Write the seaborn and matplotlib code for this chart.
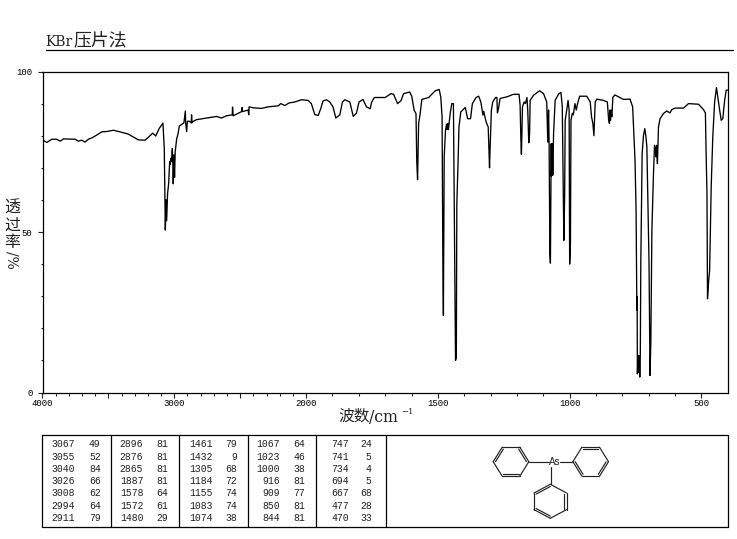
import numpy as np
import pandas as pd
import matplotlib
matplotlib.use("Agg")
import matplotlib.pyplot as plt
import seaborn as sns
from matplotlib.ticker import FixedLocator, FixedFormatter

# spectrum
wavenumber = [
    4000, 3967, 3929, 3891, 3866, 3841, 3753, 3727, 3702, 3677, 3652, 3626, 3588, 3551, 3513, 3462,
    3412, 3349, 3311, 3273, 3222, 3197, 3164, 3141, 3114, 3086, 3081, 3076, 3068, 3063, 3058, 3051,
    3043, 3035, 3030, 3025, 3020, 3015, 3010, 3008, 3003, 2998, 2993, 2982, 2972, 2962, 2944, 2927,
    2916, 2914, 2906, 2901, 2886, 2871, 2869, 2866, 2856, 2831, 2755, 2679, 2642, 2604, 2560, 2558,
    2553, 2490, 2485, 2482, 2440, 2435, 2432, 2402, 2338, 2288, 2212, 2192, 2162, 2129, 2086, 2036,
    1992, 1980, 1967, 1954, 1944, 1936, 1923, 1910, 1898, 1887, 1872, 1862, 1853, 1834, 1821, 1809,
    1799, 1784, 1771, 1757, 1751, 1741, 1700, 1678, 1668, 1653, 1640, 1630, 1607, 1599, 1590, 1583,
    1580, 1577, 1573, 1567, 1561, 1535, 1510, 1495, 1489, 1484, 1482, 1481, 1479, 1476, 1471, 1467,
    1465, 1462, 1460, 1453, 1447, 1441, 1437, 1433, 1430, 1428, 1423, 1420, 1413, 1396, 1387, 1376,
    1369, 1355, 1345, 1337, 1329, 1326, 1317, 1309, 1304, 1302, 1297, 1292, 1281, 1276, 1274, 1270,
    1264, 1238, 1213, 1192, 1188, 1185, 1183, 1179, 1173, 1168, 1162, 1159, 1155, 1152, 1150, 1137,
    1114, 1099, 1087, 1083, 1080, 1078, 1075, 1073, 1070, 1069, 1066, 1064, 1061, 1055, 1042, 1033,
    1028, 1024, 1022, 1019, 1017, 1011, 1006, 1002, 1000, 997, 995, 990, 986, 980, 975, 970,
    962, 935, 922, 917, 912, 908, 903, 897, 872, 857, 852, 849, 847, 845, 843, 840,
    836, 828, 796, 771, 761, 752, 748, 745, 744, 743, 741, 738, 736, 734, 732, 730,
    725, 720, 715, 711, 707, 703, 699, 697, 695, 692, 688, 682, 678, 673, 672, 670,
    667, 663, 657, 644, 632, 619, 613, 600, 568, 549, 511, 492, 485, 482, 479, 477,
    473, 469, 463, 457, 450, 443, 438, 431, 425, 419, 412, 406, 400,
]
transmittance = [
    78.7, 77.9, 78.9, 78.9, 78.3, 79.0, 78.9, 78.3, 78.6, 78.0, 78.9, 79.3, 80.2, 81.2, 81.3, 81.7,
    81.2, 80.5, 79.6, 78.7, 78.6, 79.5, 80.8, 79.9, 82.3, 83.9, 80.0, 76.0, 50.6, 60.0, 53.5, 62.0,
    65.0, 72.0, 71.0, 73.0, 72.0, 76.0, 70.0, 65.0, 74.0, 67.0, 75.0, 79.0, 80.5, 83.0, 83.5, 84.0,
    87.7, 84.0, 81.3, 84.5, 84.5, 84.0, 86.5, 84.0, 84.5, 85.0, 85.5, 86.0, 85.5, 86.2, 86.5, 88.9,
    86.2, 87.5, 88.8, 87.5, 88.0, 86.5, 89.0, 88.7, 88.5, 89.0, 89.3, 90.0, 89.4, 90.2, 90.5, 91.2,
    91.0, 90.0, 86.6, 86.3, 88.5, 90.8, 91.2, 90.5, 89.0, 85.5, 86.5, 90.5, 91.2, 90.5, 86.0, 87.0,
    90.5, 91.3, 89.0, 88.4, 90.5, 91.9, 91.9, 93.1, 92.9, 90.0, 90.9, 93.1, 93.6, 92.3, 87.9, 86.9,
    71.8, 66.3, 83.8, 86.9, 91.3, 91.9, 94.0, 94.4, 92.1, 85.9, 53.6, 39.6, 24.0, 73.4, 81.7, 83.6,
    81.9, 83.8, 81.9, 87.1, 90.0, 90.0, 51.6, 10.0, 11.0, 58.8, 72.9, 82.7, 87.4, 88.8, 85.3, 85.3,
    90.0, 91.9, 92.3, 90.5, 86.4, 87.6, 84.3, 82.7, 70.0, 75.5, 87.9, 90.5, 91.9, 91.9, 87.1, 88.5,
    91.6, 92.1, 92.9, 92.9, 89.5, 78.6, 74.2, 89.0, 90.5, 90.0, 91.9, 87.9, 77.8, 80.7, 91.0, 92.6,
    94.0, 93.1, 90.5, 78.0, 88.0, 78.0, 43.2, 40.3, 77.5, 67.4, 77.5, 67.7, 80.7, 91.0, 93.0, 93.5,
    89.0, 62.0, 47.4, 61.0, 84.8, 88.0, 91.0, 88.0, 40.0, 46.4, 84.8, 87.0, 86.5, 90.0, 88.0, 90.0,
    92.3, 92.3, 90.5, 85.9, 83.8, 80.0, 90.5, 91.4, 91.0, 90.5, 84.8, 83.8, 88.0, 84.8, 88.0, 85.9,
    92.0, 92.7, 91.3, 91.4, 89.0, 72.3, 56.8, 25.6, 29.8, 5.8, 11.5, 6.3, 11.5, 4.8, 11.5, 41.0,
    74.4, 80.0, 82.2, 80.0, 76.5, 58.8, 41.0, 23.5, 5.3, 15.7, 50.5, 68.2, 77.0, 76.0, 73.4, 77.0,
    71.3, 82.7, 85.3, 86.9, 87.7, 87.1, 88.1, 88.6, 88.6, 90.0, 89.8, 88.1, 87.1, 73.4, 62.0, 29.2,
    34.4, 38.0, 64.0, 79.6, 90.5, 95.0, 92.0, 88.0, 84.8, 85.3, 91.0, 94.2, 94.2,
]

# peak table, one pair of lists per column
peak_wn_1 = [3067, 3055, 3040, 3026, 3008, 2994, 2911]
peak_t_1 = [49, 52, 84, 66, 62, 64, 79]
peak_wn_2 = [2896, 2876, 2865, 1887, 1578, 1572, 1480]
peak_t_2 = [81, 81, 81, 81, 64, 61, 29]
peak_wn_3 = [1461, 1432, 1305, 1184, 1155, 1083, 1074]
peak_t_3 = [79, 9, 68, 72, 74, 74, 38]
peak_wn_4 = [1067, 1023, 1000, 916, 909, 850, 844]
peak_t_4 = [64, 46, 38, 81, 77, 81, 81]
peak_wn_5 = [747, 741, 734, 694, 667, 477, 470]
peak_t_5 = [24, 5, 4, 5, 68, 28, 33]

x_major = [4000, 3500, 3000, 2500, 2000, 1500, 1000, 500]
x_major_labels = ["4000", "", "3000", "", "2000", "1500", "1000", "500"]
y_major = [0, 50, 100]
y_major_labels = ["0", "50", "100"]

W, H = 737, 539
MONO = "Liberation Mono"
SERIF = "DejaVu Serif"
CJK = "Noto Sans CJK SC"
INK = "#222222"

sns.set_style("ticks")
plt.rcParams["font.family"] = ["Liberation Sans", "Noto Sans CJK SC"]


# the axis is compressed by half above 2000 cm-1
def squeeze(v):
    v = np.asarray(v, dtype=float)
    return np.where(v > 2000, 2000 + (v - 2000) / 2, v)


def unsqueeze(v):
    v = np.asarray(v, dtype=float)
    return np.where(v > 2000, 2000 + (v - 2000) * 2, v)


df = pd.DataFrame({"wn": wavenumber, "t": transmittance})

fig = plt.figure(figsize=(W / 100, H / 100), dpi=100)
ax = fig.add_axes([42.5 / W, 1 - 392.5 / H, (727.8 - 42.5) / W, (392.5 - 71.5) / H])
sns.lineplot(data=df, x="wn", y="t", sort=False, estimator=None, errorbar=None,
             color="black", linewidth=0.95, ax=ax)
ax.set_xscale("function", functions=(squeeze, unsqueeze))
ax.set_xlim(4000, 400)
ax.set_ylim(0, 100)
ax.set_xlabel("")
ax.set_ylabel("")
ax.xaxis.set_major_locator(FixedLocator(x_major))
ax.xaxis.set_major_formatter(FixedFormatter(x_major_labels))
ax.xaxis.set_minor_locator(FixedLocator(np.arange(500, 4000, 100)))
ax.yaxis.set_major_locator(FixedLocator(y_major))
ax.yaxis.set_major_formatter(FixedFormatter(y_major_labels))
ax.yaxis.set_minor_locator(FixedLocator(np.arange(10, 100, 10)))
ax.tick_params(which="major", length=3.8, width=0.8, labelsize=6.5, labelcolor="black")
ax.tick_params(axis="x", which="major", pad=1)
ax.tick_params(axis="y", which="major", pad=3.4)
ax.tick_params(which="minor", length=1.8, width=0.8)
for lab in ax.get_xticklabels() + ax.get_yticklabels():
    lab.set_family(MONO)
for s in ax.spines.values():
    s.set_visible(True)
    s.set_linewidth(0.9)
    s.set_color("black")

# overlay in pixel coordinates for the page furniture
pg = fig.add_axes([0, 0, 1, 1])
pg.set_xlim(0, W)
pg.set_ylim(H, 0)
pg.axis("off")
pg.patch.set_alpha(0)

pg.text(45.5, 42, "KBr", fontsize=10, family=SERIF, va="center", ha="left", color=INK)
pg.text(73, 41.5, "压片法", fontsize=12.9, family=CJK, va="center", ha="left", color=INK)
pg.plot([46, 733], [50.3, 50.3], color="black", lw=0.9)

# y label: upright characters stacked, then the unit turned sideways
for ch, y in zip("透过率", [208, 225, 242]):
    pg.text(12, y, ch, fontsize=11.5, family=CJK, ha="center", va="center", color=INK)
pg.text(12, 251, "/%", fontsize=10, family=SERIF, rotation=-90, ha="center", va="top", color=INK)

pg.text(338, 416.5, "波数", fontsize=11.3, family=CJK, ha="left", va="center", color=INK)
pg.text(369, 417, "/cm", fontsize=11.3, family=SERIF, ha="left", va="center", color=INK)
pg.text(401.5, 411.5, "−1", fontsize=6, family=SERIF, ha="left", va="center", color=INK)

# peak table
box_l, box_r, box_t, box_b = 42.4, 728, 435, 527.3
pg.plot([box_l, box_r, box_r, box_l, box_l], [box_t, box_t, box_b, box_b, box_t], color="black", lw=0.9)
for x in [111.3, 179.3, 248.3, 316.3, 385.7]:
    pg.plot([x, x], [box_t, box_b], color="black", lw=0.9)

row_y = [444.3, 456.6, 469.2, 481.3, 493.4, 506, 518]
columns = [
    (peak_wn_1, peak_t_1, 75, 100.7),
    (peak_wn_2, peak_t_2, 143.3, 168.3),
    (peak_wn_3, peak_t_3, 212.3, 237.3),
    (peak_wn_4, peak_t_4, 280, 305),
    (peak_wn_5, peak_t_5, 349.3, 371.7),
]
for wns, ts, x1, x2 in columns:
    for y, a, b in zip(row_y, wns, ts):
        pg.text(x1, y, str(a), fontsize=7, family=MONO, ha="right", va="center", color=INK)
        pg.text(x2, y, str(b), fontsize=7, family=MONO, ha="right", va="center", color=INK)


# triphenylarsine sketch
def ring(cx, cy, verts, doubles):
    pts = [(cx + dx, cy + dy) for dx, dy in verts]
    for i in range(6):
        a, b = pts[i], pts[(i + 1) % 6]
        pg.plot([a[0], b[0]], [a[1], b[1]], color=INK, lw=0.85)
        if i in doubles:
            # second stroke pulled towards the ring centre
            a2 = (a[0] + (cx - a[0]) * 0.13, a[1] + (cy - a[1]) * 0.13)
            b2 = (b[0] + (cx - b[0]) * 0.13, b[1] + (cy - b[1]) * 0.13)
            pg.plot([a2[0], b2[0]], [a2[1], b2[1]], color=INK, lw=0.85)


flat = [(-17.8, 0), (-8.8, -14.5), (8.8, -14.5), (17.8, 0), (8.8, 14.5), (-8.8, 14.5)]
tall = [(0, -17), (16.3, -8.3), (16.3, 8.3), (0, 17), (-16.3, 8.3), (-16.3, -8.3)]
ring(511, 461.7, flat, {0, 2, 4})
ring(590.7, 461.7, flat, {1, 3, 5})
ring(550.3, 501.3, tall, {1, 3, 5})
pg.plot([529, 549], [461.7, 461.7], color=INK, lw=0.85)
pg.plot([560.5, 573], [461.7, 461.7], color=INK, lw=0.85)
pg.plot([551, 551], [467, 484.3], color=INK, lw=0.85)
pg.text(554.3, 462, "As", fontsize=7, family="Liberation Sans", ha="center", va="center", color=INK)

fig.savefig("out.png", dpi=100)
plt.close(fig)
